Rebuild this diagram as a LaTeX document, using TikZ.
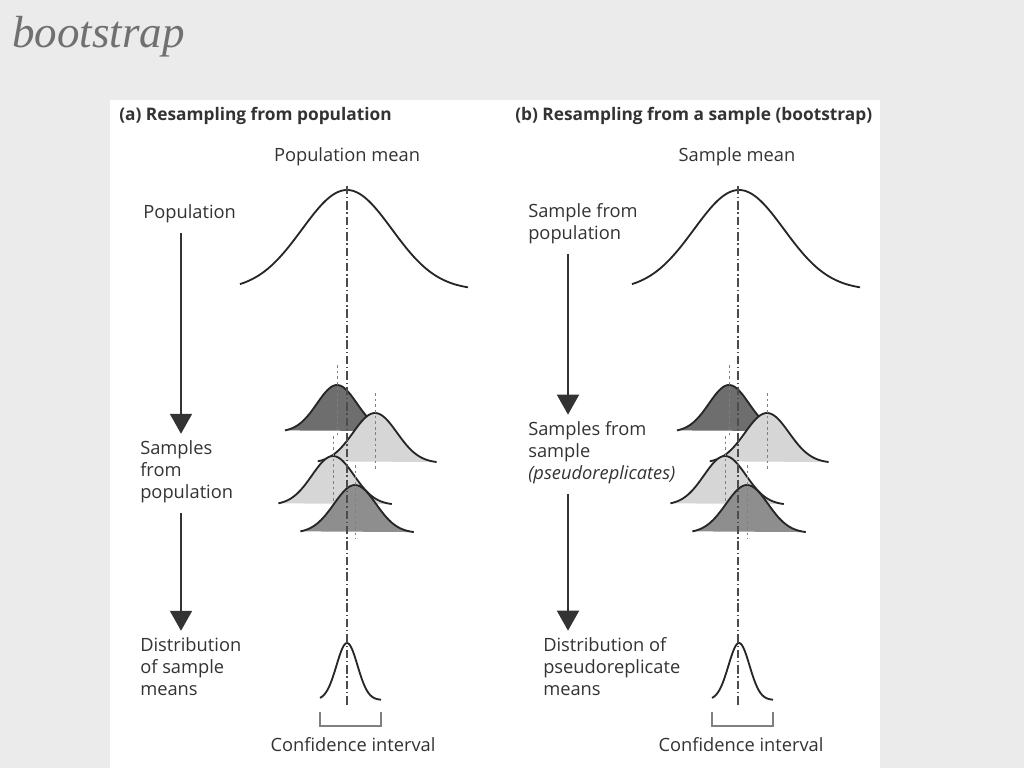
\documentclass[tikz,border=0pt]{standalone}
\usepackage{fontspec}
\setsansfont{Open Sans}
\newfontfamily\titlefont{Liberation Serif}
\usepackage{xcolor}
\usepackage{tikz}
\usetikzlibrary{arrows.meta, positioning}

\definecolor{bgpaper}{HTML}{EBEBEB}
\definecolor{inkgrey}{HTML}{333333}
\definecolor{titlegrey}{HTML}{707070}
\definecolor{darkfill}{HTML}{6E6E6E}
\definecolor{midfill}{HTML}{8E8E8E}
\definecolor{lightfill}{HTML}{D6D6D6}

\tikzset{
    lbl/.style={font=\sffamily\fontsize{13}{15.3}\selectfont, text=inkgrey, align=left, anchor=base west, inner sep=0pt},
    heading/.style={lbl, font=\sffamily\bfseries\fontsize{12.3}{15.3}\selectfont},
    flow/.style={-{Triangle[width=0.55cm, length=0.5cm]}, line width=1.4pt, inkgrey},
    bell/.style={line width=1.3pt, black!85},
    meanline/.style={line width=1pt, black!70, dash pattern=on 6pt off 2pt on 1pt off 2pt},
    sampmean/.style={gray, line width=0.6pt, dash pattern=on 2pt off 2pt},
    ci/.style={gray, line width=1pt}
}

\begin{document}
\begin{tikzpicture}[x=0.025cm, y=-0.025cm]
    % Nền và khung trắng
    \fill[bgpaper] (0,0) rectangle (1024,768);
    \useasboundingbox (0,0) rectangle (1024,768);
    \fill[white] (110,100) rectangle (880,768);
    \node[anchor=base west, inner sep=0pt, text=titlegrey] (title) at (12,48)
        {\titlefont\itshape\fontsize{32}{36}\selectfont bootstrap};

    % Tiêu đề hai phần
    \node[heading] (headA) at (119,121) {(a) Resampling from population};
    \node[heading] (headB) at (515,121) {(b) Resampling from a sample (bootstrap)};
    \node[lbl, anchor=base] (meanA) at (347,162) {Population mean};
    \node[lbl, anchor=base] (meanB) at (737,162) {Sample mean};

    % Nhãn bên trái (mốc base là dòng cuối)
    \node[lbl] (popA) at (143,218) {Population};
    \node[lbl] (sampA) at (140,498) {Samples\\from\\population};
    \node[lbl] (distA) at (140,695) {Distribution\\of sample\\means};

    % Nhãn bên phải
    \node[lbl] (popB) at (528,239) {Sample from\\population};
    \node[lbl] (sampB) at (528,479) {Samples from\\sample\\\textit{(pseudoreplicates)}};
    \node[lbl] (distB) at (543,695) {Distribution of\\pseudoreplicate\\means};

    % Các mũi tên
    \coordinate (xA) at (181,0);
    \coordinate (xB) at (568,0);
    \draw[flow, shorten <=7pt, shorten >=5pt] (popA.south -| xA) -- (sampA.north -| xA);
    \draw[flow, shorten <=7pt, shorten >=5pt] (sampA.south -| xA) -- (distA.north -| xA);
    \draw[flow, shorten <=7pt, shorten >=5pt] (popB.south -| xB) -- (sampB.north -| xB);
    \draw[flow, shorten <=7pt, shorten >=5pt] (sampB.south -| xB) -- (distB.north -| xB);

    \foreach \dx in {0,392} {
        % Phân phối lớn
        \draw[bell, samples=100, domain=240+\dx:468+\dx]
            plot (\x, {290 - 100*exp(-((\x-347-\dx)/45)^2/2)});
        % Bốn mẫu lặp lại
        \foreach \mu/\base/\h/\s/\col in {337/432/47/20/darkfill, 375/463/50/22/lightfill,
                                          333/505/49/21/lightfill, 355/533/48/21/midfill} {
            \draw[bell, fill=\col, samples=60, domain=\mu+\dx-2.6*\s:\mu+\dx+2.8*\s]
                plot (\x, {\base - \h*exp(-((\x-\mu-\dx)/\s)^2/2)});
            \draw[sampmean] (\mu+\dx,\base-\h-20) -- (\mu+\dx,\base+6);
        }
        % Phân phối trung bình mẫu
        \draw[bell, samples=60, domain=320+\dx:381+\dx]
            plot (\x, {700 - 57*exp(-((\x-347-\dx)/10.5)^2/2)});
        \draw[ci] (320+\dx,712) -- (320+\dx,726) -- (381+\dx,726) -- (381+\dx,712);
    }
    \node[lbl, anchor=base] (ciA) at (353,751) {Confidence interval};
    \node[lbl, anchor=base] (ciB) at (741,751) {Confidence interval};

    % Đường trung bình nét chấm gạch
    \draw[meanline] (meanA.south) ++(0,19) coordinate (mtA) -- (mtA |- 0,707);
    \draw[meanline] (meanB.south) ++(1,19) coordinate (mtB) -- (mtB |- 0,707);
\end{tikzpicture}
\end{document}
